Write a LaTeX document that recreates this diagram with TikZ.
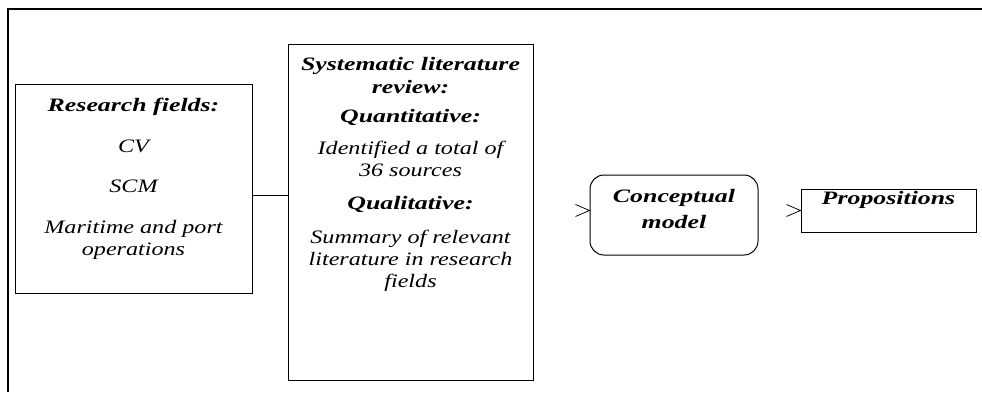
\documentclass[tikz,border=0pt]{standalone}
\usepackage{fontspec}
\setmainfont[FakeStretch=1.27, BoldItalicFeatures={FakeStretch=1.36}]{Liberation Serif}
\usetikzlibrary{positioning}

\tikzset{every picture/.style={line width=0.75pt}}
\tikzset{
  boxnode/.style={draw, line width=1pt, inner sep=0pt},
  txtnode/.style={inner sep=0pt, align=center, font=\fontsize{19}{22}\selectfont\itshape},
}

\begin{document}
\begin{tikzpicture}[x=1pt,y=1pt,yscale=-1,xscale=1]
  \useasboundingbox (0,0) rectangle (982,392);

  %Outer frame
  \draw [line width=1.5] (982,9) -- (8,9) -- (8,392) ;

  %Shape: Rectangle [research fields]
  \node [boxnode, minimum width=237, minimum height=209] (fields) at (133.5,188.5) {};
  %Shape: Rectangle [literature review]
  \node [boxnode, minimum width=245, minimum height=336] (slr) at (410.5,212) {};
  %Shape: Rounded Rectangle [conceptual model]
  \node [boxnode, rounded corners=14, minimum width=168, minimum height=80] (cm) at (674,215) {};
  %Shape: Rectangle [propositions]
  \node [boxnode, minimum width=175, minimum height=43] (prop) at (888.5,210.5) {};

  % Text Node
  \node [txtnode, anchor=north] (fieldsText) at (133.5,98) {\textbf{Research fields:}\\[19pt]
    CV\\[18pt]
    SCM\\[19pt]
    Maritime and port\\
    operations};
  % Text Node
  \node [txtnode, anchor=north] (slrText) at (410.5,57) {\textbf{Systematic literature}\\[1pt]
    \textbf{review:}\\[7pt]
    \textbf{Quantitative:}\\[10pt]
    Identified a total of\\
    36 sources\\[11pt]
    \textbf{Qualitative:}\\[12pt]
    Summary of relevant\\
    literature in research\\
    fields};
  % Text Node
  \node [txtnode, anchor=north] (cmText) at (674,189) {\textbf{Conceptual}\\[4pt] \textbf{model}};
  % Text Node
  \node [txtnode, anchor=north] (propText) at (888.5,191) {\textbf{Propositions}};

  %Straight Lines
  \coordinate (link) at (270,195);
  \draw (fields.east |- link) -- (slr.west |- link) ;
  %Arrow heads
  \draw (cm.west |- prop.west) ++(-14,-6) -- ++(14,6) -- ++(-14,6) ;
  \draw (prop.west) ++(-14,-6) -- ++(14,6) -- ++(-14,6) ;
\end{tikzpicture}
\end{document}
